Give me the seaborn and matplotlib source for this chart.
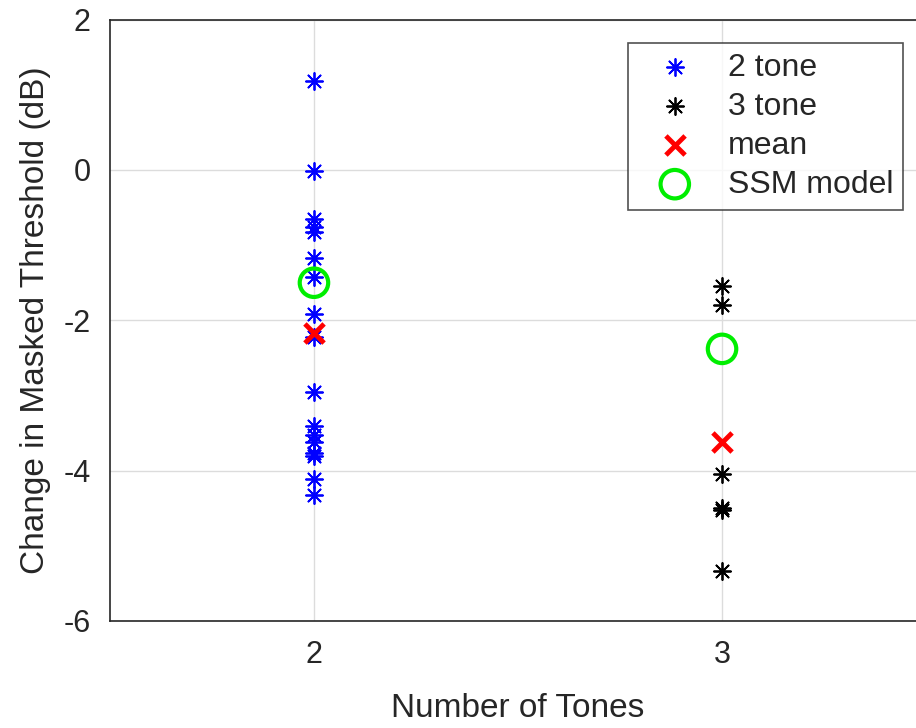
import numpy as np
import pandas as pd
import matplotlib
matplotlib.use("Agg")
import matplotlib.pyplot as plt
import seaborn as sns

# values
two_tone = [1.18, -0.02, -0.65, -0.76, -0.83, -1.17, -1.43, -1.92, -2.22,
            -2.96, -3.40, -3.52, -3.62, -3.76, -3.80, -4.11, -4.33]
three_tone = [-1.54, -1.79, -4.05, -4.50, -4.52, -5.34]
n_tones = [2, 3]
mean_vals = [-2.17, -3.62]
ssm_vals = [-1.50, -2.38]

df = pd.concat([
    pd.DataFrame({"tones": 2, "dB": two_tone, "group": "2 tone"}),
    pd.DataFrame({"tones": 3, "dB": three_tone, "group": "3 tone"}),
])

sns.set_style("white")
plt.rcParams["font.family"] = ["Liberation Sans", "DejaVu Sans"]

fig = plt.figure(figsize=(9.16, 7.28), dpi=100)
# right edge of the box runs past the picture, as in the reference
ax = fig.add_axes([0.120, 0.147, 0.891, 0.826])

star = (8, 2, 0)
sns.scatterplot(data=df[df.group == "2 tone"], x="tones", y="dB", ax=ax,
                marker=star, color="#0000ff", s=150, linewidth=1.3, label="2 tone", zorder=3)
sns.scatterplot(data=df[df.group == "3 tone"], x="tones", y="dB", ax=ax,
                marker=star, color="black", s=150, linewidth=1.3, label="3 tone", zorder=3)
sns.scatterplot(x=n_tones, y=mean_vals, ax=ax, marker="x", color="#ff0000",
                s=190, linewidth=3.5, label="mean", zorder=4)
sns.scatterplot(x=n_tones, y=ssm_vals, ax=ax, marker="o", facecolor="none",
                edgecolor="#00ee00", s=420, linewidth=3, label="SSM model", zorder=5)

ax.set_xlim(1.5, 3.5)
ax.set_ylim(-6, 2)
ax.set_xticks(n_tones)
ax.set_yticks([-6, -4, -2, 0, 2])
ax.set_yticklabels(["-6", "-4", "-2", "0", "2"])
ax.grid(True, color="#dcdcdc", linewidth=1)
ax.set_axisbelow(True)
ax.tick_params(direction="in", length=5, labelsize=22, colors="#262626", pad=14)
for sp in ax.spines.values():
    sp.set_color("#262626")
    sp.set_linewidth(1.2)

ax.set_xlabel("Number of Tones", fontsize=24, color="#262626", labelpad=16)
ax.set_ylabel("Change in Masked Threshold (dB)", fontsize=24, color="#262626", labelpad=9)

leg = ax.legend(loc="upper right", bbox_to_anchor=(0.972, 0.962), fontsize=23,
                frameon=True, fancybox=False, edgecolor="#262626",
                handletextpad=0.5, borderpad=0.32, labelspacing=0.28,
                handlelength=2.3, borderaxespad=0)
leg.get_frame().set_linewidth(1.2)

fig.savefig("out.png", dpi=100)
